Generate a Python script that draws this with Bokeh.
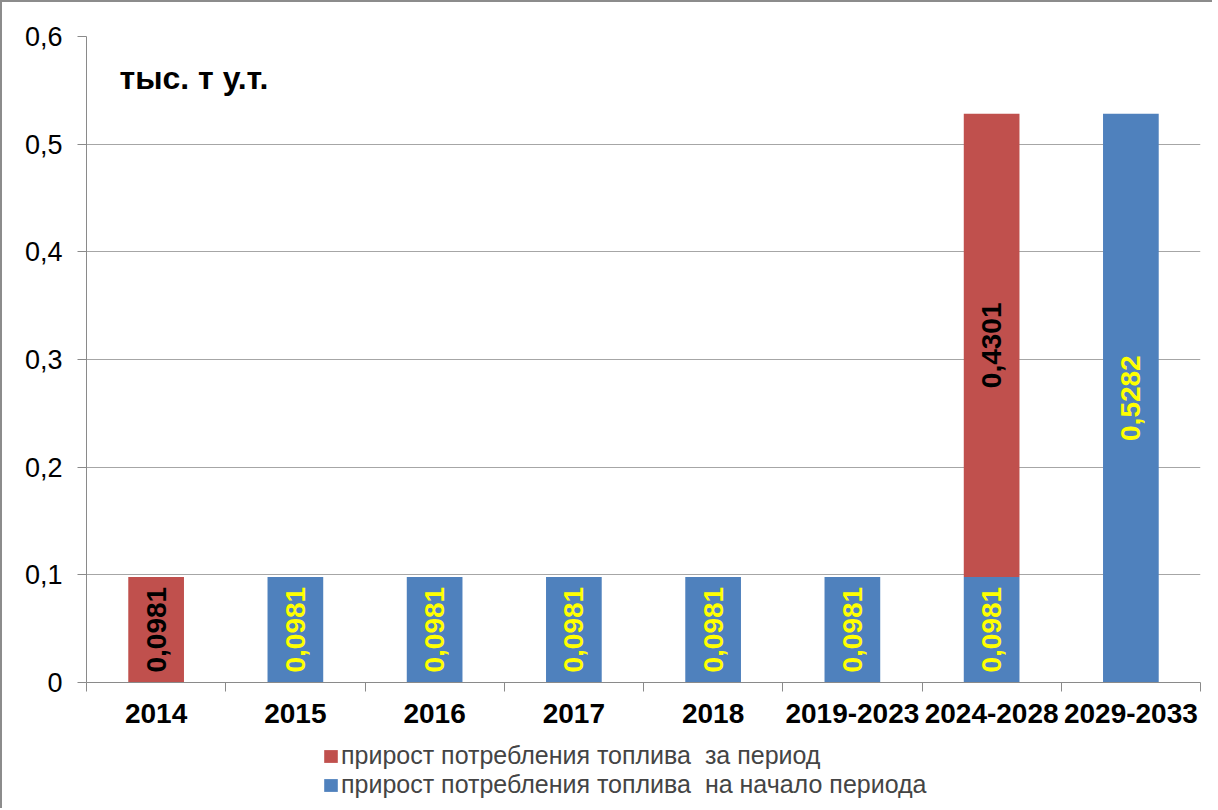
import math
from bokeh.plotting import figure
from bokeh.layouts import column
from bokeh.models import (ColumnDataSource, FixedTicker, CustomJSTickFormatter,
                          Legend, LegendItem, Label, Range1d)
from bokeh.core.properties import value
from bokeh.embed import file_html
from bokeh.resources import INLINE

categories = ["2014", "2015", "2016", "2017", "2018", "2019-2023", "2024-2028", "2029-2033"]
start_values = [0, 0.0981, 0.0981, 0.0981, 0.0981, 0.0981, 0.0981, 0.5282]
period_values = [0.0981, 0, 0, 0, 0, 0, 0.4301, 0]
y_ticks = [0, 0.1, 0.2, 0.3, 0.4, 0.5, 0.6]
y_tick_labels = ["0", "0,1", "0,2", "0,3", "0,4", "0,5", "0,6"]
unit_label = "тыс. т у.т."
legend_period = "прирост потребления топлива  за период"
legend_start = "прирост потребления топлива  на начало периода"

RED = "#C0504D"
BLUE = "#4F81BD"
GRAY = "#8a8a8a"
FONT = "Liberation Sans"

n = len(categories)
xs = [i + 0.5 for i in range(n)]
period_top = [s + v for s, v in zip(start_values, period_values)]

bar_src = ColumnDataSource(dict(x=xs, start=start_values, period_top=period_top,
                                zero=[0] * n))

# labels for non-zero segments
lx, ly, lt, lc = [], [], [], []
for i in range(n):
    if start_values[i] > 0:
        lx.append(xs[i]); ly.append(start_values[i] / 2)
        lt.append(f"{start_values[i]:.4f}".replace(".", ",")); lc.append("#FFFF00")
    if period_values[i] > 0:
        lx.append(xs[i]); ly.append(start_values[i] + period_values[i] / 2)
        lt.append(f"{period_values[i]:.4f}".replace(".", ",")); lc.append("#000000")
lab_src = ColumnDataSource(dict(x=lx, y=ly, text=lt, color=lc))

p = figure(width=1210, height=740, x_range=Range1d(0, n), y_range=Range1d(0, 0.6),
           output_backend="svg", toolbar_location=None,
           min_border_left=84, min_border_right=12, min_border_top=34, min_border_bottom=60)
p.outline_line_color = None
p.background_fill_color = "white"
p.border_fill_color = "white"

blue_r = p.vbar(x="x", bottom="zero", top="start", width=0.4, source=bar_src,
                fill_color=BLUE, line_color=None)
red_r = p.vbar(x="x", bottom="start", top="period_top", width=0.4, source=bar_src,
               fill_color=RED, line_color=None)

p.text(x="x", y="y", text="text", source=lab_src, angle=math.pi / 2,
       text_align="center", text_baseline="middle", text_color="color",
       text_font=value(FONT), text_font_style="bold", text_font_size="28px")

# axes
p.xgrid.grid_line_color = None
p.ygrid.grid_line_color = "#a6a6a6"
p.ygrid.ticker = FixedTicker(ticks=y_ticks)

ya = p.yaxis[0]
ya.ticker = FixedTicker(ticks=y_ticks)
ya.formatter = CustomJSTickFormatter(args=dict(labels=y_tick_labels, tvals=y_ticks),
    code="""
    let best = 0;
    for (let i = 0; i < tvals.length; i++) {
        if (Math.abs(tvals[i] - tick) < Math.abs(tvals[best] - tick)) best = i;
    }
    return labels[best];
    """)
ya.axis_line_color = GRAY
ya.major_tick_line_color = GRAY
ya.major_tick_out = 9
ya.major_tick_in = 0
ya.minor_tick_line_color = None
ya.major_label_standoff = 15
ya.major_label_text_font = FONT
ya.major_label_text_font_size = "27px"
ya.major_label_text_color = "black"

xa = p.xaxis[0]
xa.ticker = FixedTicker(ticks=xs, minor_ticks=list(range(n + 1)))
xa.formatter = CustomJSTickFormatter(args=dict(cats=categories),
                                     code="return cats[Math.floor(tick)];")
xa.axis_line_color = GRAY
xa.major_tick_out = 0
xa.major_tick_in = 0
xa.major_tick_line_color = None
xa.minor_tick_line_color = GRAY
xa.minor_tick_out = 9
xa.minor_tick_in = 0
xa.major_label_standoff = 12
xa.major_label_text_font = FONT
xa.major_label_text_font_style = "bold"
xa.major_label_text_font_size = "28px"
xa.major_label_text_color = "black"

p.add_layout(Label(x=0.237, y=0.561, text=unit_label, text_font=FONT,
                   text_font_style="bold", text_font_size="32px",
                   text_color="black", text_baseline="alphabetic"))

# legend strip below the chart (key glyphs share the bar data, kept out of view)
p2 = figure(width=1210, height=66, x_range=Range1d(0, n), y_range=Range1d(10, 11),
            output_backend="svg", toolbar_location=None,
            x_axis_location=None, y_axis_location=None,
            min_border_left=0, min_border_right=0, min_border_top=0, min_border_bottom=0)
p2.outline_line_color = None
p2.xgrid.visible = False
p2.ygrid.visible = False
red_key = p2.vbar(x="x", bottom="start", top="period_top", width=0.4, source=bar_src,
                  fill_color=RED, line_color=None)
blue_key = p2.vbar(x="x", bottom="zero", top="start", width=0.4, source=bar_src,
                   fill_color=BLUE, line_color=None)

legend = Legend(items=[LegendItem(label=legend_period, renderers=[red_key]),
                       LegendItem(label=legend_start, renderers=[blue_key])],
                location=(236, 9))
legend.border_line_color = None
legend.background_fill_alpha = 0
legend.label_text_font = FONT
legend.label_text_font_size = "25px"
legend.glyph_width = 17
legend.glyph_height = 16
legend.label_height = 25
legend.label_standoff = 2
legend.spacing = 0
legend.padding = 0
legend.margin = 0
p2.add_layout(legend)

layout = column(p, p2, spacing=0,
                styles={"border-left": "2px solid #8c8c8c", "border-top": "2px solid #8c8c8c"})

open("out.html", "w").write(file_html(layout, INLINE))
